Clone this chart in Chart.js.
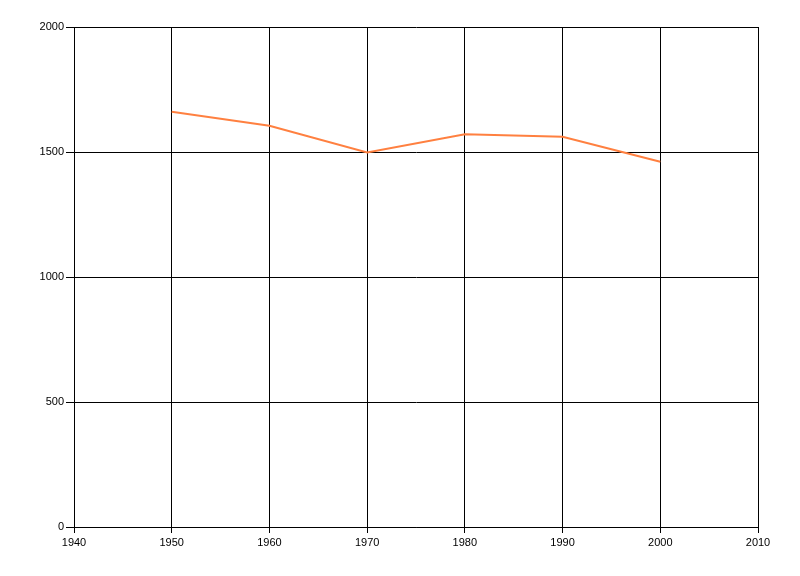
<!DOCTYPE html>
<html>
<head>
<meta charset="utf-8">
<script src="https://cdn.jsdelivr.net/npm/chart.js@4"></script>
<style>
  html, body { margin: 0; padding: 0; background: #fff; }
  #wrap { width: 800px; height: 576px; }
</style>
</head>
<body>
<div id="wrap"><canvas id="plot" width="800" height="576"></canvas></div>
<script>
// values
var years = [1950, 1960, 1970, 1980, 1990, 2000];
var values = [1661, 1605, 1498, 1571, 1561, 1461];

var xMin = 1940, xMax = 2010, xStep = 10;
var yMin = 0, yMax = 2000, yStep = 500;

var chart;
function createChart(canvas) {
    chart = new Chart(canvas, {
        type: "line",
        data: {
            datasets: [{
                data: years.map((x, i) => {
                    return {x: x, y: values[i]}
                }),
                borderColor: "rgb(255,128,64)",
                borderWidth: 2,
                pointRadius: 0,
                tension: 0,
                fill: false,
            }]
        },
        options: {
            responsive: false,
            animation: false,
            layout: {
                padding: {left: 0, top: 27, right: 42, bottom: 0}
            },
            scales: {
                x: {
                    type: "linear",
                    min: xMin,
                    max: xMax,
                    ticks: {
                        stepSize: xStep,
                        color: "#000",
                        padding: 3,
                        font: {family: "Liberation Sans", size: 11},
                        callback: function(v) { return String(v); }
                    },
                    grid: {color: "#000", lineWidth: 1, tickLength: 6},
                    border: {color: "#000", width: 1},
                    afterFit: function(scale) { scale.height = 49; }
                },
                y: {
                    min: yMin,
                    max: yMax,
                    ticks: {
                        stepSize: yStep,
                        color: "#000",
                        padding: 2,
                        font: {family: "Liberation Sans", size: 11},
                        callback: function(v) { return String(v); }
                    },
                    grid: {color: "#000", lineWidth: 1, tickLength: 8},
                    border: {color: "#000", width: 1},
                    afterFit: function(scale) { scale.width = 74; }
                }
            },
            plugins: {
                legend: {display: false},
                tooltip: {enabled: false}
            }
        }
    });
}

window.addEventListener("load", function() {
    createChart(document.getElementById("plot"));
});
</script>
</body>
</html>
